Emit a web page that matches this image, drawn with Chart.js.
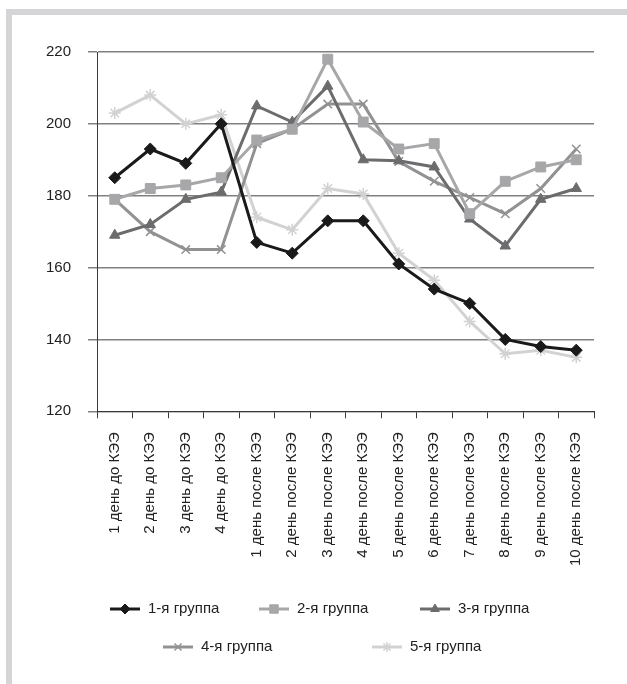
<!DOCTYPE html>
<html>
<head>
<meta charset="utf-8">
<script src="https://cdn.jsdelivr.net/npm/chart.js@4/dist/chart.umd.min.js"></script>
<style>
  html, body { margin: 0; padding: 0; background: #fff; }
  #frame {
    position: absolute; left: 6px; top: 9px; right: 0; bottom: 0;
    border-top: 6px solid #d5d5d7; border-left: 6px solid #d5d5d7;
  }
  #wrap { position: absolute; left: 0; top: 0; width: 615px; height: 669px; }
</style>
</head>
<body>
<div id="frame"><div id="wrap"><canvas id="c" width="615" height="669"></canvas></div></div>
<script>
// Days before and after the procedure
const categories = [
  '1 день до КЭЭ', '2 день до КЭЭ', '3 день до КЭЭ', '4 день до КЭЭ',
  '1 день после КЭЭ', '2 день после КЭЭ', '3 день после КЭЭ', '4 день после КЭЭ',
  '5 день после КЭЭ', '6 день после КЭЭ', '7 день после КЭЭ', '8 день после КЭЭ',
  '9 день после КЭЭ', '10 день после КЭЭ'
];

const seriesNames = ['1-я группа', '2-я группа', '3-я группа', '4-я группа', '5-я группа'];

const group1 = [185, 193, 189, 200, 167, 164, 173, 173, 161, 154, 150, 140, 138, 137];
const group2 = [179, 182, 183, 185, 195.5, 198.5, 218, 200.5, 193, 194.5, 175, 184, 188, 190];
const group3 = [169, 172, 179, 181, 205, 200.5, 210.5, 190, 189.7, 188, 173.5, 166, 179, 182];
const group4 = [179, 170, 165, 165, 194.5, 198.5, 205.5, 205.5, 189.5, 184, 179.5, 175, 182, 193];
const group5 = [203, 208, 200, 202.5, 174, 170.5, 182, 180.5, 164, 156.5, 145, 136, 137, 135];

const yTicks = { min: 120, max: 220, step: 20 };

const FONT = "'Liberation Sans', Arial, sans-serif";

const styles = [
  { color: '#1a1a1a', pointStyle: 'rectRot', radius: 6, pbw: 1 },
  { color: '#a7a7a9', pointStyle: 'rect',    radius: 7, pbw: 1 },
  { color: '#6c6c6e', pointStyle: 'triangle',radius: 6, pbw: 1 },
  { color: '#929294', pointStyle: 'crossRot',radius: 6, pbw: 1.5 },
  { color: '#d2d2d4', pointStyle: 'star',    radius: 6, pbw: 1.5 }
];

const seriesData = [group1, group2, group3, group4, group5];

const datasets = seriesData.map((d, i) => ({
  label: seriesNames[i],
  data: d,
  borderColor: styles[i].color,
  backgroundColor: styles[i].color,
  borderWidth: 3,
  tension: 0,
  pointStyle: styles[i].pointStyle,
  pointRadius: styles[i].radius,
  pointHoverRadius: styles[i].radius,
  pointBorderWidth: styles[i].pbw,
  pointBorderColor: styles[i].color,
  pointBackgroundColor: styles[i].color
}));

// Legend drawn below the axis: line sample with marker, then the label
const legendSlots = [[98, 594], [247, 594], [408, 594], [151, 632], [360, 632]];

const lineLegend = {
  id: 'lineLegend',
  afterDraw(chart) {
    const ctx = chart.ctx;
    ctx.save();
    ctx.font = '15px ' + FONT;
    ctx.textBaseline = 'middle';
    ctx.textAlign = 'left';
    chart.data.datasets.forEach((ds, i) => {
      const [x, y] = legendSlots[i];
      ctx.strokeStyle = ds.borderColor;
      ctx.lineWidth = 3;
      ctx.beginPath();
      ctx.moveTo(x, y);
      ctx.lineTo(x + 30, y);
      ctx.stroke();
      ctx.fillStyle = ds.pointBackgroundColor;
      ctx.strokeStyle = ds.pointBorderColor;
      ctx.lineWidth = ds.pointBorderWidth;
      Chart.helpers.drawPoint(ctx, {
        pointStyle: ds.pointStyle, radius: ds.pointRadius - 1, rotation: 0, borderWidth: ds.pointBorderWidth
      }, x + 15, y);
      ctx.fillStyle = '#222';
      ctx.fillText(ds.label, x + 38, y);
    });
    ctx.restore();
  }
};

new Chart(document.getElementById('c'), {
  type: 'line',
  data: { labels: categories, datasets },
  plugins: [lineLegend],
  options: {
    responsive: false,
    animation: false,
    devicePixelRatio: 1,
    layout: { padding: { left: 0, top: 37, right: 33, bottom: 104 } },
    plugins: { legend: { display: false }, tooltip: { enabled: false } },
    scales: {
      x: {
        type: 'category',
        offset: true,
        grid: { display: true, drawOnChartArea: false, drawTicks: true, tickLength: 7, color: '#3a3a3a', lineWidth: 1, offset: true },
        border: { display: true, color: '#3a3a3a', width: 1 },
        ticks: { autoSkip: false, minRotation: 90, maxRotation: 90, padding: 14, color: '#222', font: { family: FONT, size: 15 } }
      },
      y: {
        min: yTicks.min, max: yTicks.max,
        afterFit(scale) { scale.width = 85; },
        grid: { color: '#808080', lineWidth: 1.5, tickLength: 9 },
        border: { display: true, color: '#3a3a3a', width: 1 },
        ticks: { stepSize: yTicks.step, padding: 17, color: '#222', font: { family: FONT, size: 15 } }
      }
    }
  }
});
</script>
</body>
</html>
